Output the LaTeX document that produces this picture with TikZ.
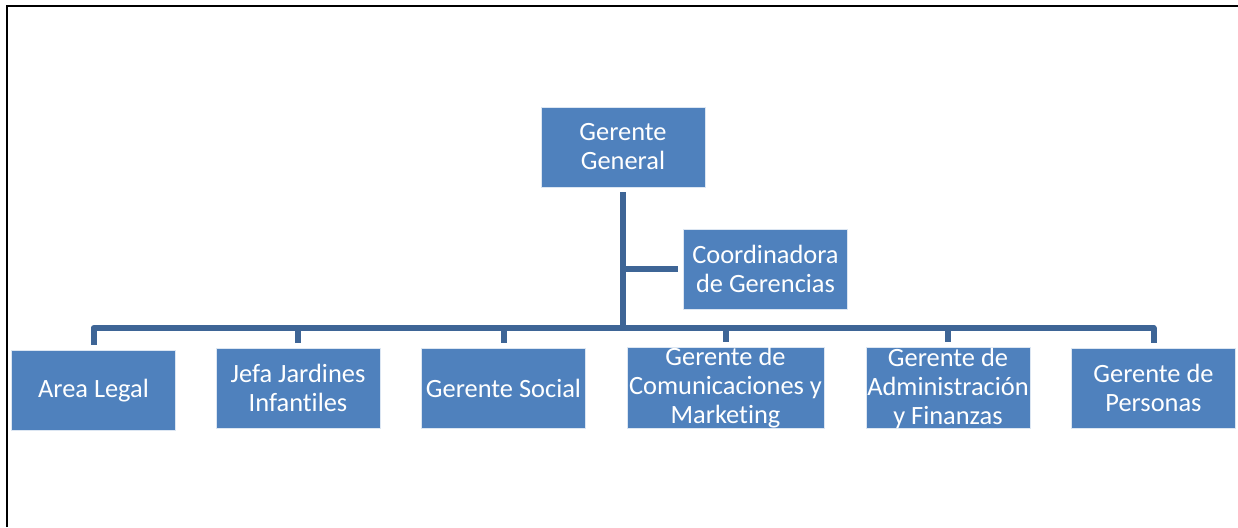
\documentclass[tikz,border=0pt]{standalone}
\usepackage{fontspec}
\setmainfont{Carlito}[Ligatures=NoCommon]
\definecolor{orgfill}{RGB}{79,129,189}
\definecolor{orgline}{RGB}{62,101,150}

\begin{document}
\begin{tikzpicture}[x=0.5pt, y=-0.5pt,
    box/.style={rectangle, fill=orgfill, draw=white!80!orgfill, line width=0.4pt, text=white,
        minimum width=82pt, minimum height=40pt, inner sep=0pt, align=center,
        font=\fontsize{13.2}{14.5}\selectfont},
    link/.style={draw=orgline, line width=3pt, line join=round, shorten <=2.5pt, shorten >=2.5pt}]
\useasboundingbox (0,0) rectangle (1238,527);
\draw[line width=1pt] (6.5,527) -- (6.5,6) -- (1238,6);

\node [box] (gg) at (623,147) {Gerente\\General};
\node [box] (coord) at (765.5,269) {Coordinadora\\de Gerencias};
\node [box] (legal) at (93.5,390.5) {Area Legal};
\node [box] (jefa) at (298,388) {Jefa Jardines\\Infantiles};
\node [box] (social) at (503.5,388) {Gerente Social};
\node [box, minimum width=98.5pt] (comu) at (725.5,388) {Gerente de\\Comunicaciones y\\Marketing};
\node [box] (admin) at (948,388) {Gerente de\\Administración\\y Finanzas};
\node [box] (pers) at (1153.5,388) {Gerente de\\Personas};

\coordinate (bar) at (623,328);
\draw [link, shorten <=0pt] (gg.south |- coord.west) -- (coord.west);
\foreach \n in {legal, jefa, social, comu, admin, pers}
    \draw [link] (gg.south) -- (bar) -| (\n.north);
\end{tikzpicture}
\end{document}
